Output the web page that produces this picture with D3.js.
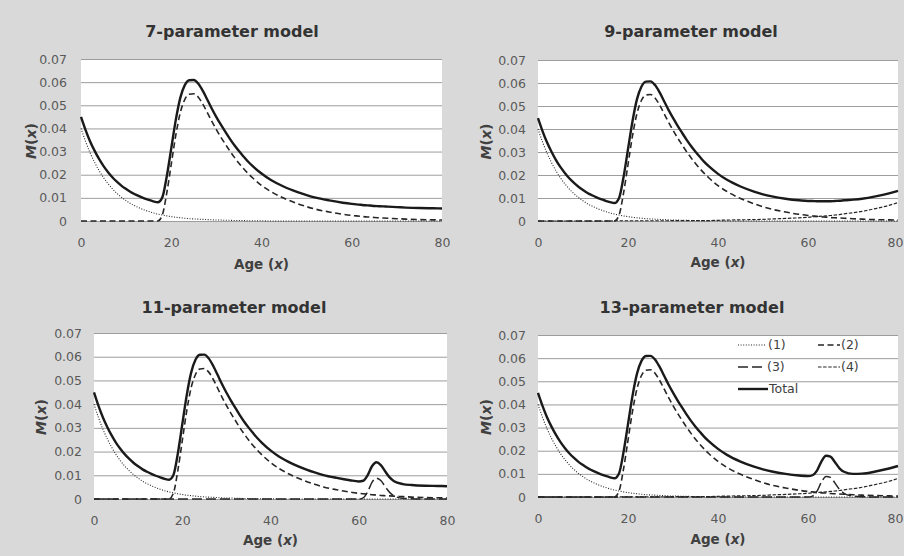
<!DOCTYPE html>
<html>
<head>
<meta charset="utf-8">
<script src="https://cdn.jsdelivr.net/npm/d3@7"></script>
<style>
  html, body { margin: 0; padding: 0; background: #d9d9d9; }
  svg { display: block; font-family: "DejaVu Sans", Verdana, sans-serif; }
</style>
</head>
<body>
<svg id="chart" width="904" height="556"></svg>
<script>
// ---------- DATA ----------
const titles = ["7-parameter model", "9-parameter model", "11-parameter model", "13-parameter model"];
const xTicks = [0, 20, 40, 60, 80];
const yTicks = [0, 0.01, 0.02, 0.03, 0.04, 0.05, 0.06, 0.07];
const legendLabels = ["(1)", "(2)", "(3)", "(4)", "Total"];

const ages = [0,1,2,3,4,5,6,7,8,9,10,11,12,13,14,15,16,17,18,19,20,21,22,23,24,25,26,27,28,29,30,31,32,33,34,35,36,37,38,
  40,42,45,48,50,52,55,58,60,61,62,63,64,65,66,67,68,70,72,75,78,80];

// (1) childhood component
const comp1 = [0.0400,0.0344,0.0295,0.0254,0.0218,0.0187,0.0161,0.0138,0.0119,0.0102,0.0088,0.0075,0.0065,0.0056,0.0048,0.0041,0.0035,
  0.0030,0.0026,0.0022,0.0019,0.0016,0.0014,0.0012,0.0010,0.0009,0.0008,0.0007,0.0006,0.0005,0.0004,0.0004,0.0003,0.0003,0.0002,0.0002,0.0002,0.0001,0.0001,
  0.0001,0,0,0,0,0,0,0,
  0,0,0,0,0,0,0,0,0,
  0,0,0,0,0];

// (2) labour-force component
const comp2 = [0,0,0,0,0,0,0,0,0,0,0,0,0,0,0,0,0,
  0,0.0025,0.0120,0.0245,0.0370,0.0468,0.0525,0.0548,0.0550,0.0535,0.0505,0.0468,0.0430,0.0395,0.0362,0.0332,0.0302,0.0275,0.0250,0.0227,0.0206,0.0187,
  0.0154,0.0128,0.0098,0.0075,0.0062,0.0051,0.0039,0.0029,
  0.0024,0.0022,0.0020,0.0018,0.0017,0.0015,0.0014,0.0013,0.0012,
  0.0010,0.0008,0.0006,0.0005,0.0004];

// (3) retirement component, 11- and 13-parameter models
const comp3_11 = [0,0,0,0,0,0,0,0,0,0,0,0,0,0,0,0,0,
  0,0,0,0,0,0,0,0,0,0,0,0,0,0,0,0,0,0,0,0,0,0,
  0,0,0,0,0,0,0,0,
  0,0.0005,0.0030,0.0070,0.0088,0.0078,0.0052,0.0028,0.0013,
  0.0003,0.0001,0,0,0];
const comp3_13 = [0,0,0,0,0,0,0,0,0,0,0,0,0,0,0,0,0,
  0,0,0,0,0,0,0,0,0,0,0,0,0,0,0,0,0,0,0,0,0,0,
  0,0,0,0,0,0,0,0,
  0,0.0004,0.0025,0.0065,0.0089,0.0085,0.0060,0.0033,0.0016,
  0.0004,0.0001,0,0,0];

// (4) post-retirement (elderly) component, 9- and 13-parameter models
const comp4 = [0,0,0,0,0,0,0,0,0,0,0,0,0,0,0,0,0,
  0.0001,0.0001,0.0001,0.0001,0.0001,0.0001,0.0001,0.0001,0.0001,0.0001,0.0001,0.0001,0.0001,0.0002,0.0002,0.0002,0.0002,0.0002,0.0002,0.0002,0.0002,0.0002,
  0.0003,0.0004,0.0005,0.0006,0.0007,0.0009,0.0011,0.0014,
  0.0016,0.0018,0.0019,0.0021,0.0022,0.0024,0.0026,0.0028,0.0031,
  0.0036,0.0042,0.0054,0.0068,0.0080];

// Total schedules
const total7 = [0.0450,0.0394,0.0345,0.0304,0.0268,0.0237,0.0211,0.0188,0.0169,0.0152,0.0138,0.0125,0.0115,0.0106,0.0098,0.0091,0.0085,
  0.0081,0.0101,0.0192,0.0314,0.0436,0.0532,0.0587,0.0608,0.0609,0.0593,0.0562,0.0524,0.0485,0.0449,0.0416,0.0385,0.0355,0.0327,0.0302,0.0279,0.0257,0.0238,
  0.0205,0.0178,0.0148,0.0125,0.0112,0.0101,0.0089,0.0079,
  0.0074,0.0072,0.0070,0.0068,0.0067,0.0065,0.0064,0.0063,0.0062,
  0.0060,0.0058,0.0056,0.0055,0.0054];
const total9 = [0.0447,0.0391,0.0342,0.0301,0.0265,0.0234,0.0208,0.0185,0.0166,0.0149,0.0135,0.0122,0.0112,0.0103,0.0095,0.0088,0.0082,
  0.0078,0.0099,0.0190,0.0312,0.0434,0.0530,0.0585,0.0606,0.0607,0.0591,0.0560,0.0522,0.0483,0.0448,0.0415,0.0384,0.0354,0.0326,0.0301,0.0278,0.0256,0.0237,
  0.0205,0.0179,0.0150,0.0128,0.0116,0.0107,0.0097,0.0090,
  0.0087,0.0087,0.0086,0.0086,0.0086,0.0086,0.0087,0.0088,0.0090,
  0.0093,0.0097,0.0107,0.0120,0.0131];
const total11 = [0.0450,0.0394,0.0345,0.0304,0.0268,0.0237,0.0211,0.0188,0.0169,0.0152,0.0138,0.0125,0.0115,0.0106,0.0098,0.0091,0.0085,
  0.0081,0.0101,0.0192,0.0314,0.0436,0.0532,0.0587,0.0608,0.0609,0.0593,0.0562,0.0524,0.0485,0.0449,0.0416,0.0385,0.0355,0.0327,0.0302,0.0279,0.0257,0.0238,
  0.0205,0.0178,0.0148,0.0125,0.0112,0.0101,0.0089,0.0079,
  0.0074,0.0077,0.0100,0.0138,0.0155,0.0143,0.0116,0.0091,0.0075,
  0.0063,0.0059,0.0056,0.0055,0.0054];
const total13 = [0.0450,0.0394,0.0345,0.0304,0.0268,0.0237,0.0211,0.0188,0.0169,0.0152,0.0138,0.0125,0.0115,0.0106,0.0098,0.0091,0.0085,
  0.0081,0.0102,0.0193,0.0315,0.0437,0.0533,0.0588,0.0609,0.0610,0.0594,0.0563,0.0525,0.0486,0.0451,0.0418,0.0387,0.0357,0.0329,0.0304,0.0281,0.0259,0.0240,
  0.0208,0.0182,0.0153,0.0131,0.0119,0.0110,0.0100,0.0093,
  0.0090,0.0094,0.0114,0.0154,0.0178,0.0174,0.0150,0.0124,0.0109,
  0.0100,0.0101,0.0110,0.0123,0.0134];

// ---------- STYLES ----------
const styles = {
  c1:    { dash: "1,1.6", width: 1.1, color: "#262626" },
  c2:    { dash: "6,3.5", width: 1.6, color: "#262626" },
  c3:    { dash: "10,4",  width: 1.5, color: "#262626" },
  c4:    { dash: "3.5,1.6", width: 1.2, color: "#262626" },
  total: { dash: null,    width: 2.4, color: "#1a1a1a" }
};

const panels = [
  { title: titles[0], left: 81,  right: 442, top: 59,  bottom: 221, yPad: 14, titleX: 232, titleY: 37,  mX: 32,  ageY: 269,
    series: [["c1", comp1], ["c2", comp2], ["total", total7]] },
  { title: titles[1], left: 538, right: 898, top: 60,  bottom: 221, yPad: 12, titleX: 691, titleY: 37,  mX: 487, ageY: 267,
    series: [["c1", comp1], ["c2", comp2], ["c4", comp4], ["total", total9]] },
  { title: titles[2], left: 94,  right: 447, top: 333, bottom: 499, yPad: 12, titleX: 234, titleY: 313, mX: 42,  ageY: 545,
    series: [["c1", comp1], ["c2", comp2], ["c3", comp3_11], ["total", total11]] },
  { title: titles[3], left: 538, right: 898, top: 335, bottom: 497, yPad: 12, titleX: 692, titleY: 313, mX: 487, ageY: 544,
    series: [["c1", comp1], ["c2", comp2], ["c3", comp3_13], ["c4", comp4], ["total", total13]], legend: true }
];

const svg = d3.select("#chart");
svg.append("rect").attr("width", 904).attr("height", 556).attr("fill", "#d9d9d9");

const textColor = "#595959";
const titleColor = "#333333";

panels.forEach(p => {
  const x = d3.scaleLinear().domain([0, 80]).range([p.left, p.right]);
  const y = d3.scaleLinear().domain([0, 0.07]).range([p.bottom, p.top]);
  const g = svg.append("g");

  // plot area
  g.append("rect").attr("x", p.left).attr("y", p.top)
    .attr("width", p.right - p.left).attr("height", p.bottom - p.top).attr("fill", "#ffffff");

  // y axis with gridlines
  const yAxis = d3.axisLeft(y).tickValues(yTicks)
    .tickSize(-(p.right - p.left)).tickPadding(p.yPad)
    .tickFormat(d => d === 0 ? "0" : d3.format(".2f")(d));
  const ya = g.append("g").attr("transform", `translate(${p.left},0)`).call(yAxis);
  ya.select(".domain").remove();
  ya.selectAll(".tick line").attr("stroke", "#9d9d9d").attr("stroke-width", 1);
  ya.selectAll(".tick text").attr("fill", textColor).attr("font-size", "12.5px")
    .attr("font-family", "DejaVu Sans, Verdana, sans-serif");

  // x axis
  const xAxis = d3.axisBottom(x).tickValues(xTicks).tickSize(0).tickPadding(17);
  const xa = g.append("g").attr("transform", `translate(0,${p.bottom})`).call(xAxis);
  xa.select(".domain").remove();
  xa.selectAll(".tick text").attr("fill", textColor).attr("font-size", "12.5px")
    .attr("font-family", "DejaVu Sans, Verdana, sans-serif");
  // the last label of the right-hand panels sits at the page edge: keep it inside
  if (p.right > 890) {
    xa.selectAll(".tick text").filter(d => d === 80)
      .attr("text-anchor", "end").attr("x", 903 - p.right);
  }

  // series
  const line = d3.line().x((d, i) => x(ages[i])).y(d => y(d)).curve(d3.curveMonotoneX);
  p.series.forEach(([key, vals]) => {
    const s = styles[key];
    g.append("path").datum(vals)
      .attr("d", line)
      .attr("fill", "none")
      .attr("stroke", s.color)
      .attr("stroke-width", s.width)
      .attr("stroke-dasharray", s.dash)
      .attr("stroke-linejoin", "round");
  });

  // title
  g.append("text").attr("x", p.titleX).attr("y", p.titleY)
    .attr("text-anchor", "middle").attr("font-size", "16px").attr("font-weight", "bold")
    .attr("fill", titleColor).text(p.title);

  // y axis title  M(x)
  const mt = g.append("text")
    .attr("transform", `translate(${p.mX},${(p.top + p.bottom) / 2 + 1}) rotate(-90)`)
    .attr("text-anchor", "middle").attr("dominant-baseline", "middle")
    .attr("font-size", "14px").attr("font-weight", "bold").attr("fill", "#404040");
  mt.append("tspan").attr("font-style", "italic").text("M");
  mt.append("tspan").text("(");
  mt.append("tspan").attr("font-style", "italic").text("x");
  mt.append("tspan").text(")");

  // x axis title  Age (x)
  const at = g.append("text")
    .attr("x", (p.left + p.right) / 2).attr("y", p.ageY)
    .attr("text-anchor", "middle").attr("font-size", "13.5px").attr("font-weight", "bold").attr("fill", "#404040");
  at.append("tspan").text("Age (");
  at.append("tspan").attr("font-style", "italic").text("x");
  at.append("tspan").text(")");

  // legend
  if (p.legend) {
    const items = [
      { key: "c1", label: legendLabels[0], x0: 738, x1: 765, tx: 768, y: 345 },
      { key: "c2", label: legendLabels[1], x0: 818, x1: 840, tx: 841, y: 345 },
      { key: "c3", label: legendLabels[2], x0: 738, x1: 765, tx: 767, y: 367 },
      { key: "c4", label: legendLabels[3], x0: 818, x1: 840, tx: 841, y: 367 },
      { key: "total", label: legendLabels[4], x0: 738, x1: 768, tx: 769, y: 389 }
    ];
    const lg = g.append("g");
    items.forEach(it => {
      const s = styles[it.key];
      lg.append("line").attr("x1", it.x0).attr("x2", it.x1).attr("y1", it.y).attr("y2", it.y)
        .attr("stroke", s.color).attr("stroke-width", s.width).attr("stroke-dasharray", s.dash);
      lg.append("text").attr("x", it.tx).attr("y", it.y).attr("dominant-baseline", "middle")
        .attr("font-size", "12.5px").attr("fill", "#404040").text(it.label);
    });
  }
});
</script>
</body>
</html>
